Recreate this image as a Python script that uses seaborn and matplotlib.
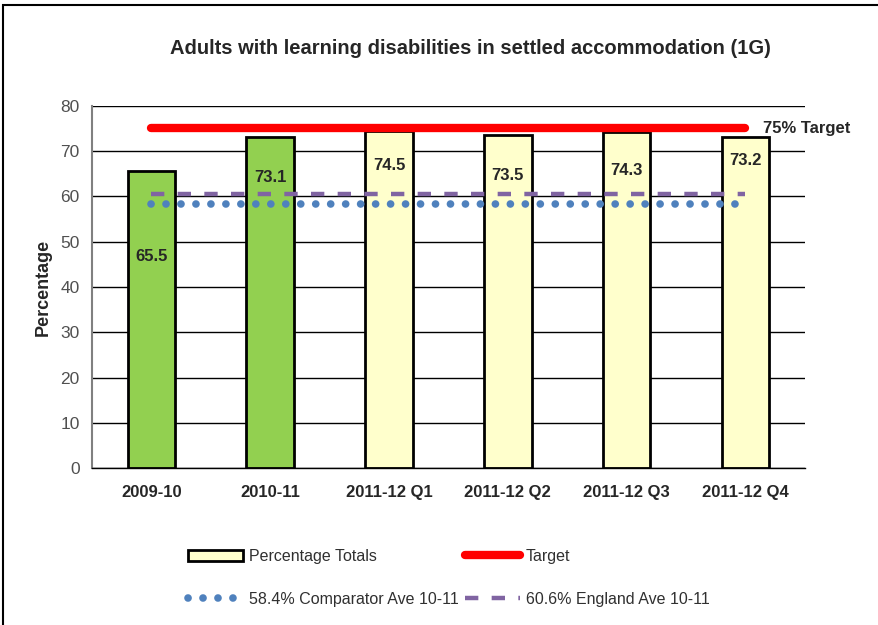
import numpy as np
import matplotlib
matplotlib.use("Agg")
import matplotlib.pyplot as plt
import seaborn as sns
from matplotlib.patches import Patch, Rectangle
from matplotlib.lines import Line2D

# data
categories = ["2009-10", "2010-11", "2011-12 Q1", "2011-12 Q2", "2011-12 Q3", "2011-12 Q4"]
values = [65.5, 73.1, 74.5, 73.5, 74.3, 73.2]
label_pos = [46.7, 64.1, 66.8, 64.5, 65.8, 68.0]
bar_colors = ["#92D050", "#92D050", "#FFFFCC", "#FFFFCC", "#FFFFCC", "#FFFFCC"]
target = 75
comparator_ave = 58.4
england_ave = 60.6

sns.set_style("white")
plt.rcParams["font.family"] = ["Liberation Sans", "DejaVu Sans"]

fig = plt.figure(figsize=(8.79, 6.25), dpi=100)
ax = fig.add_axes([0.1047, 0.2507, 0.811, 0.5802])

sns.barplot(x=categories, y=values, hue=categories, palette=bar_colors, legend=False,
            saturation=1, edgecolor="black", linewidth=2, width=0.4, ax=ax, zorder=2)

pos = np.arange(len(categories))
dots = dict(color="#4F81BD", lw=5.5, linestyle=(0, (0.01, 1.95)), dash_capstyle="round")
dashes = dict(color="#8064A2", lw=3.2, linestyle=(0, (3, 3)), dash_capstyle="butt")
red = dict(color="#FF0000", lw=6, solid_capstyle="round")

ax.plot(pos, [comparator_ave] * len(pos), zorder=3, **dots)
ax.plot(pos, [england_ave] * len(pos), zorder=3, **dashes)
ax.plot(pos, [target] * len(pos), zorder=4, **red)
ax.text(pos[-1] + 0.15, target, "75% Target", fontsize=12, fontweight="bold",
        va="center", ha="left")

for i, (v, y) in enumerate(zip(values, label_pos)):
    ax.text(i, y, f"{v:.1f}", ha="center", va="center", fontsize=12, fontweight="bold", zorder=5)

ax.set_xlim(-0.5, len(categories) - 0.5)
ax.set_ylim(0, 80)
ax.set_yticks(range(0, 81, 10))
ax.yaxis.grid(True, color="black", lw=1)
ax.set_axisbelow(True)
for s in ["top", "right"]:
    ax.spines[s].set_visible(False)
ax.spines["left"].set_color("#808080")
ax.spines["left"].set_linewidth(1.5)
ax.spines["bottom"].set_color("black")
ax.spines["bottom"].set_linewidth(1)
ax.set_xticks(pos)
ax.set_xticklabels(categories, fontsize=12, fontweight="bold")
ax.set_xticks(np.arange(-0.5, len(categories)), minor=True)
ax.tick_params(axis="x", which="major", length=0, pad=12)
ax.tick_params(axis="x", which="minor", length=5, color="#808080", direction="out")
ax.tick_params(axis="y", length=5, color="black", direction="out", labelsize=12.5,
               labelcolor="#505050", pad=4)
ax.set_xlabel("")
ax.set_ylabel("Percentage", fontsize=13, fontweight="bold", labelpad=6)

fig.text(0.535, 0.922, "Adults with learning disabilities in settled accommodation (1G)",
         ha="center", va="center", fontsize=14.5, fontweight="bold")

handles = [
    Patch(facecolor="#FFFFCC", edgecolor="black", linewidth=2),
    Line2D([], [], **dots),
    Line2D([], [], **red),
    Line2D([], [], **dashes),
]
labels = ["Percentage Totals", "58.4% Comparator Ave 10-11", "Target", "60.6% England Ave 10-11"]
fig.legend(handles, labels, ncol=2, loc="upper left", bbox_to_anchor=(0.198, 0.145),
           frameon=False, fontsize=11.5, handlelength=3.4, handletextpad=0.4,
           columnspacing=0.4, labelspacing=1.75, labelcolor="#303030")

fig.add_artist(Rectangle((3 / 879, -0.1), 1.1, 1.1 - 5 / 625, transform=fig.transFigure,
                         fill=False, edgecolor="black", lw=1.5))

fig.savefig("out.png", dpi=100)
